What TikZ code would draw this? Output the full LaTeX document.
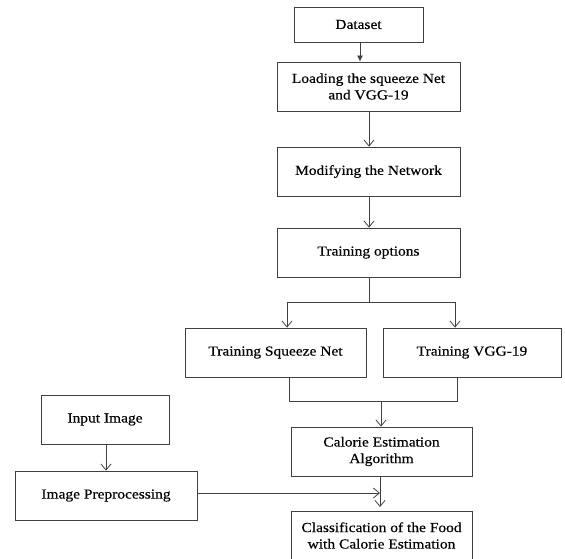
\documentclass[tikz,border=0pt]{standalone}
\usepackage{fontspec}
\setmainfont{Liberation Serif}[FakeStretch=1.12,FakeBold=0.4]
\usetikzlibrary{arrows.meta}
\definecolor{lc}{HTML}{404040}
\begin{document}
\begin{tikzpicture}[x=1pt,y=-1pt,
  box/.style={draw=lc, line width=0.8pt, rectangle, inner sep=0pt, minimum height=49pt,
    align=center, font=\fontsize{13.8}{16.5}\selectfont, text=black},
  conn/.style={draw=lc, line width=0.8pt},
  arr/.style={conn, -{Straight Barb[length=6pt,width=10pt,line width=0.8pt]}},
  farr/.style={conn, -{Latex[length=6pt,width=6pt]}}]
\useasboundingbox (0,0) rectangle (565,559);
\clip (0,0) rectangle (565,559);
\node[box, minimum width=129pt, minimum height=35pt] (dataset) at (358.5,24.5) {Dataset};
\node[box, minimum width=183pt] (load) at (368.5,86.5) {Loading the squeeze Net\\and VGG-19};
\node[box, minimum width=183pt] (modify) at (368.5,171.5) {Modifying the Network};
\node[box, minimum width=183pt] (train) at (368.5,252.5) {Training options};
\node[box, minimum width=181pt] (sq) at (275.5,352.5) {Training Squeeze Net};
\node[box, minimum width=178pt] (vgg) at (472,352.5) {Training VGG-19};
\node[box, minimum width=128pt] (input) at (105,419.5) {Input Image};
\node[box, minimum width=182pt] (prep) at (106,495.5) {Image Preprocessing};
\node[box, minimum width=181pt] (cal) at (381.5,451.5) {Calorie Estimation\\Algorithm};
\node[box, minimum width=181pt] (cls) at (381.5,535.5) {Classification of the Food\\with Calorie Estimation};

\coordinate (split) at (369,302);
\coordinate (sl) at (287,302);
\coordinate (sr) at (455,302);
\coordinate (jl) at (289,401);
\coordinate (jr) at (457,401);
\coordinate (jm) at (381,401);
\coordinate (meet) at (380,493);
\coordinate (end) at (380,507);

\draw[farr] (dataset.south -| 360,0) -- (load.north -| 360,0);
\draw[arr] (load.south -| 369,0) -- (modify.north -| 369,0);
\draw[arr] (modify.south -| 369,0) -- (train.north -| 369,0);
\draw[conn] (train.south -| split) -- (split);
\draw[conn] (sl) -- (sr);
\draw[arr] (sl) -- (sq.north -| sl);
\draw[arr] (sr) -- (vgg.north -| sr);
\draw[conn] (sq.south -| jl) -- (jl) -- (jr) -- (vgg.south -| jr);
\draw[arr] (jm) -- (cal.north -| jm);
\draw[arr] (input.south -| 106,0) -- (prep.north -| 106,0);
\draw[arr] (prep.east |- meet) -- (meet);
\draw[arr] (cal.south -| end) -- (end);
\end{tikzpicture}
\end{document}
